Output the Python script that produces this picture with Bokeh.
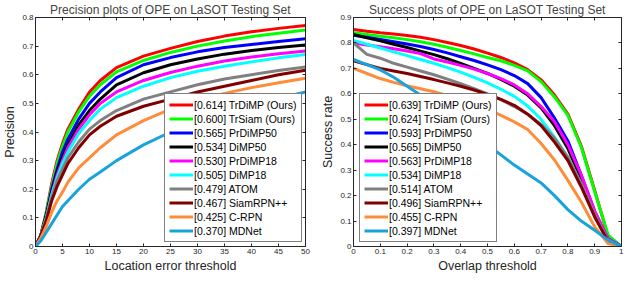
from bokeh.plotting import figure
from bokeh.models import Legend, LegendItem, LinearAxis, FixedTicker
from bokeh.layouts import row
from bokeh.embed import file_html
from bokeh.resources import INLINE

# ---------------- data ----------------
names = ["TrDiMP (Ours)", "TrSiam (Ours)", "PrDiMP50", "DiMP50", "PrDiMP18",
         "DiMP18", "ATOM", "SiamRPN++", "C-RPN", "MDNet"]
prec_scores = [0.614, 0.600, 0.565, 0.534, 0.530, 0.505, 0.479, 0.467, 0.425, 0.370]
succ_scores = [0.639, 0.624, 0.593, 0.565, 0.563, 0.534, 0.514, 0.496, 0.455, 0.397]
colors = ["#FF0000", "#00FF00", "#0000FF", "#000000", "#FF00FF",
          "#00FFFF", "#808080", "#800000", "#FF8C3A", "#18A3DD"]

prec_x = [0, 1, 2, 3, 4, 5, 6, 8, 10, 12, 15, 20, 25, 30, 35, 40, 45, 50]
prec_trdimp = [0, 0.04, 0.12, 0.22, 0.30, 0.36, 0.41, 0.48, 0.54, 0.58, 0.625, 0.665, 0.692, 0.716, 0.735, 0.750, 0.762, 0.772]
prec_trsiam = [0, 0.04, 0.12, 0.21, 0.29, 0.35, 0.40, 0.47, 0.525, 0.565, 0.61, 0.65, 0.678, 0.700, 0.718, 0.733, 0.745, 0.756]
prec_prdimp50 = [0, 0.04, 0.11, 0.20, 0.27, 0.33, 0.375, 0.445, 0.50, 0.54, 0.59, 0.635, 0.66, 0.68, 0.695, 0.706, 0.716, 0.726]
prec_dimp50 = [0, 0.04, 0.11, 0.19, 0.26, 0.31, 0.355, 0.425, 0.475, 0.515, 0.565, 0.607, 0.635, 0.655, 0.672, 0.685, 0.695, 0.704]
prec_prdimp18 = [0, 0.04, 0.10, 0.18, 0.25, 0.30, 0.345, 0.41, 0.46, 0.50, 0.54, 0.58, 0.608, 0.63, 0.648, 0.662, 0.673, 0.683]
prec_dimp18 = [0, 0.04, 0.10, 0.18, 0.24, 0.29, 0.33, 0.395, 0.44, 0.48, 0.52, 0.56, 0.59, 0.612, 0.63, 0.645, 0.659, 0.671]
prec_atom = [0, 0.04, 0.10, 0.17, 0.23, 0.27, 0.31, 0.365, 0.41, 0.44, 0.475, 0.515, 0.54, 0.565, 0.585, 0.60, 0.615, 0.627]
prec_siamrpn = [0, 0.04, 0.09, 0.16, 0.21, 0.25, 0.29, 0.345, 0.39, 0.42, 0.455, 0.49, 0.515, 0.54, 0.56, 0.58, 0.60, 0.616]
prec_crpn = [0, 0.03, 0.07, 0.12, 0.16, 0.19, 0.225, 0.275, 0.31, 0.345, 0.39, 0.44, 0.48, 0.51, 0.535, 0.555, 0.572, 0.588]
prec_mdnet = [0, 0.02, 0.05, 0.08, 0.11, 0.14, 0.16, 0.20, 0.235, 0.26, 0.30, 0.355, 0.40, 0.435, 0.465, 0.492, 0.517, 0.54]

succ_x = [0, 0.05, 0.1, 0.15, 0.2, 0.25, 0.3, 0.35, 0.4, 0.45, 0.5,
          0.55, 0.6, 0.65, 0.7, 0.75, 0.8, 0.85, 0.9, 0.95, 1.0]
succ_trdimp = [0.853, 0.846, 0.840, 0.835, 0.829, 0.822, 0.813, 0.802, 0.790, 0.776, 0.760, 0.743, 0.722, 0.695, 0.655, 0.595, 0.520, 0.395, 0.220, 0.040, 0.0]
succ_trsiam = [0.840, 0.833, 0.826, 0.820, 0.813, 0.805, 0.795, 0.783, 0.770, 0.757, 0.743, 0.730, 0.712, 0.690, 0.648, 0.588, 0.515, 0.390, 0.215, 0.045, 0.0]
succ_prdimp50 = [0.830, 0.822, 0.814, 0.805, 0.796, 0.786, 0.774, 0.761, 0.746, 0.731, 0.714, 0.695, 0.672, 0.640, 0.585, 0.505, 0.415, 0.280, 0.137, 0.030, 0.0]
succ_dimp50 = [0.833, 0.820, 0.808, 0.795, 0.782, 0.768, 0.754, 0.738, 0.720, 0.700, 0.680, 0.657, 0.630, 0.595, 0.545, 0.475, 0.385, 0.265, 0.130, 0.025, 0.0]
succ_prdimp18 = [0.800, 0.792, 0.785, 0.777, 0.768, 0.758, 0.737, 0.725, 0.712, 0.697, 0.680, 0.660, 0.635, 0.600, 0.550, 0.490, 0.400, 0.280, 0.140, 0.030, 0.0]
succ_dimp18 = [0.810, 0.795, 0.780, 0.765, 0.750, 0.735, 0.720, 0.703, 0.685, 0.665, 0.643, 0.618, 0.590, 0.552, 0.500, 0.430, 0.350, 0.245, 0.120, 0.020, 0.0]
succ_atom = [0.800, 0.755, 0.740, 0.720, 0.705, 0.690, 0.675, 0.658, 0.640, 0.620, 0.600, 0.577, 0.550, 0.520, 0.480, 0.425, 0.350, 0.245, 0.125, 0.020, 0.0]
succ_siamrpn = [0.730, 0.715, 0.700, 0.690, 0.680, 0.668, 0.656, 0.643, 0.630, 0.615, 0.598, 0.578, 0.555, 0.520, 0.475, 0.410, 0.338, 0.234, 0.116, 0.020, 0.0]
succ_crpn = [0.700, 0.680, 0.660, 0.645, 0.632, 0.620, 0.608, 0.594, 0.578, 0.560, 0.540, 0.515, 0.490, 0.460, 0.405, 0.340, 0.260, 0.175, 0.077, 0.012, 0.0]
succ_mdnet = [0.735, 0.715, 0.694, 0.665, 0.630, 0.595, 0.565, 0.528, 0.487, 0.443, 0.400, 0.360, 0.320, 0.285, 0.250, 0.200, 0.145, 0.100, 0.064, 0.025, 0.0]

prec_series = [prec_trdimp, prec_trsiam, prec_prdimp50, prec_dimp50, prec_prdimp18,
               prec_dimp18, prec_atom, prec_siamrpn, prec_crpn, prec_mdnet]
succ_series = [succ_trdimp, succ_trsiam, succ_prdimp50, succ_dimp50, succ_prdimp18,
               succ_dimp18, succ_atom, succ_siamrpn, succ_crpn, succ_mdnet]

prec_xticks = [0, 5, 10, 15, 20, 25, 30, 35, 40, 45, 50]
prec_yticks = [0, 0.1, 0.2, 0.3, 0.4, 0.5, 0.6, 0.7, 0.8]
succ_xticks = [0, 0.1, 0.2, 0.3, 0.4, 0.5, 0.6, 0.7, 0.8, 0.9, 1.0]
succ_yticks = [0, 0.1, 0.2, 0.3, 0.4, 0.5, 0.6, 0.7, 0.8, 0.9]

FONT = "Liberation Sans"
AX = "#262626"


def labels_for(ticks):
    return {t: "%g" % t for t in ticks}


def make_panel(title, xlabel, ylabel, xs, series, scores, xr, yr, xticks, yticks,
               frame_w, border_left, border_right, legend_loc):
    p = figure(frame_width=frame_w, frame_height=229, x_range=xr, y_range=yr,
               output_backend="svg", toolbar_location=None,
               min_border_left=border_left, min_border_right=border_right,
               min_border_top=0, min_border_bottom=0)
    p.title.text = title
    p.title.text_font = FONT
    p.title.text_font_size = "12px"
    p.title.text_font_style = "normal"
    p.title.align = "center"
    p.title.standoff = 1
    p.title.offset = 0
    p.xgrid.visible = False
    p.ygrid.visible = False
    p.outline_line_color = AX
    p.outline_line_width = 1
    p.background_fill_color = "white"
    p.border_fill_color = "white"

    for ax, ticks in ((p.xaxis[0], xticks), (p.yaxis[0], yticks)):
        ax.ticker = FixedTicker(ticks=ticks)
        ax.major_label_overrides = labels_for(ticks)
        ax.major_tick_in = 3
        ax.major_tick_out = 0
        ax.minor_tick_line_color = None
        ax.axis_line_color = AX
        ax.major_tick_line_color = AX
        ax.major_label_text_font = FONT
        ax.major_label_text_font_size = "8px"
        ax.major_label_text_color = AX
        ax.major_label_standoff = 2
        ax.axis_label_text_font = FONT
        ax.axis_label_text_font_size = "12.5px"
        ax.axis_label_text_font_style = "normal"
        ax.axis_label_text_color = AX
        ax.axis_label_standoff = 2
    p.xaxis.axis_label = xlabel
    p.yaxis.axis_label = ylabel

    for loc, ticks in (("above", xticks), ("right", yticks)):
        extra = LinearAxis(ticker=FixedTicker(ticks=ticks),
                           major_label_text_font_size="1px",
                           major_label_text_color=None,
                           major_tick_in=3, major_tick_out=0,
                           minor_tick_line_color=None,
                           axis_line_color=AX, major_tick_line_color=AX,
                           major_label_standoff=0)
        p.add_layout(extra, loc)

    items = []
    for name, sc, ys, c in zip(names, scores, series, colors):
        r = p.line(xs, ys, line_color=c, line_width=3)
        items.append(LegendItem(label="[%.3f] %s" % (sc, name), renderers=[r]))

    leg = Legend(items=items, location=legend_loc)
    leg.label_text_font = FONT
    leg.label_text_font_size = "10.5px"
    leg.label_text_color = "#000000"
    leg.label_height = 13
    leg.glyph_height = 13
    leg.glyph_width = 24
    leg.label_standoff = 1
    leg.spacing = 1
    leg.padding = 4
    leg.margin = 0
    leg.border_line_color = "#000000"
    leg.border_line_width = 1
    leg.background_fill_color = "white"
    leg.background_fill_alpha = 1.0
    p.add_layout(leg, "center")
    return p


p1 = make_panel("Precision plots of OPE on LaSOT Testing Set", "Location error threshold",
                "Precision", prec_x, prec_series, prec_scores, (0, 50), (0, 0.8),
                prec_xticks, prec_yticks, 270, 31, 13, (129, 4))
p2 = make_panel("Success plots of OPE on LaSOT Testing Set", "Overlap threshold",
                "Success rate", succ_x, succ_series, succ_scores, (0, 1), (0, 0.9),
                succ_xticks, succ_yticks, 268, 34, 2, (6, 4))

layout = row(p1, p2)
open("out.html", "w").write(file_html(layout, INLINE))
